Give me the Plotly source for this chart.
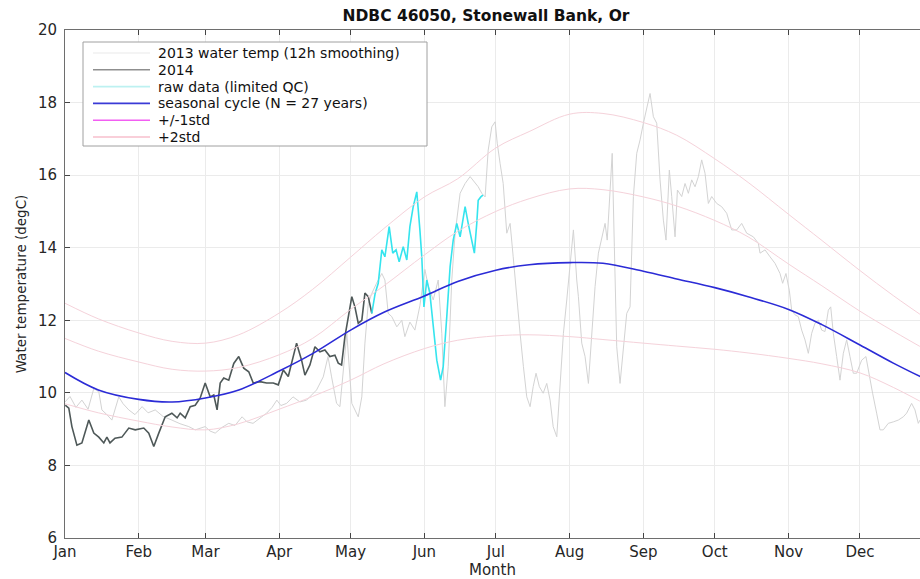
import plotly.graph_objects as go

# ---------------- data (day of year, degC) ----------------
month_days = [1, 32, 60, 91, 121, 152, 182, 213, 244, 274, 305, 335]
month_names = ["Jan", "Feb", "Mar", "Apr", "May", "Jun",
               "Jul", "Aug", "Sep", "Oct", "Nov", "Dec"]
y_ticks = [6, 8, 10, 12, 14, 16, 18, 20]

# seasonal climatology and spread
clim_day = [1, 15, 32, 46, 60, 74, 91, 105, 121, 135, 152, 166, 182,
            196, 213, 227, 244, 258, 274, 288, 305, 319, 335, 349, 365]
clim_mean = [10.56, 10.08, 9.82, 9.75, 9.86, 10.08, 10.6, 11.08, 11.73,
             12.22, 12.67, 13.07, 13.38, 13.53, 13.59, 13.57, 13.35,
             13.14, 12.9, 12.65, 12.3, 11.88, 11.32, 10.82, 10.3]
clim_plus1 = [11.5, 11.15, 10.85, 10.65, 10.6, 10.7, 11.05, 11.5, 12.3,
              12.95, 13.8, 14.45, 15.0, 15.35, 15.62, 15.6, 15.4, 15.15,
              14.75, 14.3, 13.55, 12.95, 12.25, 11.7, 11.1]
clim_minus1 = [9.7, 9.45, 9.22, 9.06, 8.98, 9.15, 9.55, 9.9, 10.35,
               10.8, 11.22, 11.45, 11.57, 11.6, 11.55, 11.47, 11.37,
               11.29, 11.2, 11.1, 10.95, 10.8, 10.55, 10.15, 9.6]
clim_plus2 = [12.47, 12.04, 11.65, 11.42, 11.37, 11.6, 12.2, 12.85, 13.74,
              14.53, 15.4, 15.9, 16.75, 17.2, 17.68, 17.7, 17.45, 17.1,
              16.45, 15.8, 14.92, 14.2, 13.37, 12.68, 11.95]

# 2013 water temperature, 12 h smoothing
t13_day = [1.0, 3.1, 5.6, 8.1, 10.7, 13.1, 15.2, 16.5, 18.6, 20.7, 23.6,
           25.4, 27.8, 30.4, 33.4, 35.9, 38.9, 42.2, 45.9, 49.3, 53.0, 55.7,
           59.9, 61.9, 64.1, 67.0, 69.8, 72.4, 75.4, 77.5, 80.0, 82.9, 85.7,
           88.0, 90.0, 91.7, 94.1, 96.8, 99.7, 102.5, 104.8, 106.7, 109.5,
           111.5, 113.0, 115.1, 116.5, 117.9, 119.4, 121.5, 122.8, 124.2,
           125.7, 127.0, 128.4, 129.9, 131.9, 134.1, 135.4, 136.8, 138.3,
           140.4, 142.5, 143.8, 145.9, 148.0, 150.1, 152.2, 153.6, 155.7,
           157.8, 159.3, 160.6, 162.0, 163.5, 164.9, 167.0, 169.1, 171.2,
           173.3, 174.6, 176.1, 177.5, 178.8, 180.3, 181.7, 182.6, 183.8,
           185.1, 186.6, 188.0, 189.3, 190.8, 192.2, 193.6, 195.0, 196.4,
           197.7, 198.9, 200.3, 201.9, 203.4, 204.8, 206.1, 207.6, 209.0,
           210.4, 211.8, 213.2, 214.6, 216.0, 216.7, 218.1, 219.5, 220.9,
           222.3, 223.7, 225.1, 226.5, 227.9, 228.8, 230.0, 230.9, 231.8,
           232.8, 234.2, 235.6, 237.0, 238.4, 239.8, 241.2, 242.6, 244.0,
           245.4, 246.8, 248.2, 249.6, 251.0, 252.4, 253.5, 254.9, 255.9,
           257.3, 258.3, 260.1, 261.5, 262.9, 264.3, 265.7, 267.1, 268.5,
           269.9, 271.3, 272.7, 274.8, 276.9, 279.0, 281.1, 283.2, 285.3,
           287.4, 290.2, 292.3, 293.0, 295.1, 297.2, 299.3, 301.4, 302.5,
           303.9, 305.3, 306.3, 307.7, 309.1, 310.5, 311.9, 313.3, 314.7,
           316.1, 317.5, 318.9, 320.3, 321.7, 322.7, 323.8, 325.2, 326.6,
           328.0, 329.4, 330.8, 332.2, 333.6, 335.7, 337.5, 338.9, 340.3,
           342.0, 343.4, 344.8, 346.9, 349.0, 351.1, 353.2, 354.6, 356.7,
           358.1, 359.5, 360.2, 363.0, 365.0]
t13_temp = [9.75, 9.9, 9.6, 9.8, 9.55, 10.12, 10.03, 9.53, 9.4, 9.25, 9.89,
            9.7, 9.53, 9.4, 9.62, 9.45, 9.53, 9.35, 9.25, 9.15, 9.07, 8.98,
            9.07, 8.95, 8.89, 9.05, 9.16, 9.1, 9.34, 9.2, 9.16, 9.3, 9.44,
            9.6, 9.8, 9.65, 9.71, 9.89, 9.75, 9.8, 9.95, 10.08, 10.44,
            11.0, 10.44, 9.71, 9.62, 10.63, 11.64, 9.71, 9.53, 9.34,
            9.89, 11.37, 12.46, 12.74, 13.02, 13.29, 13.11, 12.19, 12.1,
            11.82, 12.0, 11.55, 11.95, 11.73, 12.4, 13.4, 12.95, 12.56,
            13.11, 11.64, 9.62, 10.72, 13.11, 14.4, 15.5, 15.77, 15.96,
            15.77, 15.68, 15.5, 15.4, 16.69, 17.33, 17.47, 16.88, 16.32,
            15.77, 14.4, 14.67, 13.75, 12.56, 11.64, 10.72, 9.89, 9.62,
            10.17, 10.54, 10.17, 9.99, 10.26, 9.8, 9.07, 8.79, 10.08,
            11.64, 12.56, 13.5, 14.49, 13.11, 12.65, 11.37, 11.0, 10.26,
            11.55, 12.93, 13.85, 14.3, 14.67, 14.21, 15.41, 16.6, 14.03,
            11.27, 10.26, 11.27, 12.19, 12.37, 15.41, 16.6, 16.97, 17.43,
            17.89, 18.25, 17.61, 17.43, 15.87, 14.76, 14.21, 16.14, 15.41,
            14.3, 15.59, 15.41, 15.77, 15.5, 15.87, 15.68, 15.96, 16.42,
            16.05, 15.22, 15.41, 15.22, 15.13, 14.95, 14.49, 14.49, 14.67,
            14.4, 14.3, 14.12, 13.85, 13.94, 13.75, 13.57, 13.29, 13.02,
            13.29, 12.83, 12.28, 12.15, 12.1, 11.73, 11.46, 11.09, 11.64,
            11.92, 12.0, 11.73, 11.69, 12.28, 12.37, 11.64, 11.0, 10.35,
            11.09, 11.46, 11.0, 10.54, 10.54, 10.9, 11.0, 10.44, 9.99,
            9.44, 8.98, 8.98, 9.16, 9.2, 9.25, 9.34, 9.44, 9.71,
            9.53, 9.16, 9.25, 9.2, 9.1]

# 2014 quality-controlled record
t14_day = [1.1, 2.6, 3.9, 6.0, 8.1, 11.0, 13.1, 15.2, 17.3, 18.6, 19.9,
           22.0, 24.9, 27.8, 30.5, 34.1, 36.2, 38.3, 40.4, 43.1, 45.9, 48.1,
           49.4, 51.5, 53.6, 55.7, 57.8, 59.9, 62.0, 63.5, 64.9, 66.2, 67.7,
           69.8, 71.9, 74.0, 76.1, 78.2, 80.1, 82.9, 85.7, 88.5, 90.6, 92.7,
           94.8, 96.9, 98.3, 100.4, 101.8, 103.9, 106.0, 108.1, 110.2,
           112.3, 114.4, 115.8, 117.2, 118.6, 120.0, 121.5, 122.8, 124.2,
           125.7, 127.0, 128.4, 129.9]
t14_temp = [9.66, 9.58, 9.07, 8.56, 8.62, 9.25, 8.89, 8.78, 8.62, 8.78,
            8.62, 8.75, 8.78, 9.03, 8.98, 9.03, 8.89, 8.52, 8.89, 9.34,
            9.44, 9.31, 9.44, 9.31, 9.62, 9.66, 9.86, 10.27, 9.89, 9.94,
            9.53, 10.27, 10.41, 10.35, 10.81, 11.0, 10.68, 10.58, 10.27,
            10.31, 10.27, 10.27, 10.22, 10.63, 10.45, 11.0, 11.37, 10.9,
            10.49, 10.77, 11.27, 11.13, 11.18, 11.0, 11.04, 10.82, 10.77,
            11.55, 12.1, 12.65, 12.37, 11.92, 12.0, 12.75, 12.65, 12.19]

# 2014 raw data, limited QC
raw_day = [129.9, 131.3, 132.6, 134.1, 135.4, 137.2, 138.7, 140.1, 141.4,
           143.1, 144.6, 145.9, 147.3, 148.8, 150.1, 150.9, 151.8, 153.0,
           154.3, 155.7, 157.2, 158.8, 159.9, 161.4, 162.8, 164.1, 165.6,
           167.0, 168.1, 169.1, 170.4, 171.9, 173.0, 174.0, 174.6, 175.7,
           176.6]
raw_temp = [12.19, 12.74, 13.02, 13.94, 13.75, 14.58, 13.85, 13.94, 13.61,
            14.03, 13.66, 14.58, 15.13, 15.54, 14.49, 13.75, 12.37, 13.11,
            12.74, 11.82, 10.9, 10.35, 10.72, 12.1, 13.48, 14.21, 14.67,
            14.3, 14.76, 15.13, 14.67, 14.21, 13.85, 14.67, 15.31, 15.4,
            15.45]

# ---------------- figure ----------------
W, H = 920, 579
ML, MR, MT, MB = 65, 0, 30, 41
PX_PER_DAY = 2.3802
x_range = [1, 1 + (W - ML - MR) / PX_PER_DAY]

col_2013 = "#d3d3d3"
col_2014 = "#4e5858"
col_raw = "#35e4ee"
col_mean = "#2b2bd6"
col_std = "#f5d2da"

fig = go.Figure()
fig.add_trace(go.Scatter(x=t13_day, y=t13_temp, mode="lines",
                         name="2013 water temp (12h smoothing)",
                         line=dict(color=col_2013, width=1)))
fig.add_trace(go.Scatter(x=t14_day, y=t14_temp, mode="lines", name="2014",
                         line=dict(color=col_2014, width=1.6)))
fig.add_trace(go.Scatter(x=raw_day, y=raw_temp, mode="lines",
                         name="raw data (limited QC)",
                         line=dict(color=col_raw, width=1.6)))
fig.add_trace(go.Scatter(x=clim_day, y=clim_mean, mode="lines",
                         name="seasonal cycle (N = 27 years)",
                         line=dict(color=col_mean, width=1.6, shape="spline")))
fig.add_trace(go.Scatter(x=clim_day, y=clim_plus1, mode="lines",
                         name="+1std",
                         line=dict(color=col_std, width=1, shape="spline")))
fig.add_trace(go.Scatter(x=clim_day, y=clim_minus1, mode="lines",
                         name="-1std",
                         line=dict(color=col_std, width=1, shape="spline")))
fig.add_trace(go.Scatter(x=clim_day, y=clim_plus2, mode="lines",
                         name="+2std",
                         line=dict(color=col_std, width=1, shape="spline")))

# ---------------- legend box (drawn in pixel space of the axes) ----------------
plot_w = W - ML - MR
plot_h = H - MT - MB


def px(xp):
    return (xp - ML) / plot_w


def py(yp):
    return (H - MB - yp) / plot_h


legend_items = [
    ("2013 water temp (12h smoothing)", "#f1f1f1"),
    ("2014", "#8f8f8f"),
    ("raw data (limited QC)", "#bdf1f1"),
    ("seasonal cycle (N = 27 years)", "#3a3ad6"),
    ("+/-1std", "#f25ef2"),
    ("+2std", "#f7bfcc"),
]
shapes = [dict(type="rect", xref="paper", yref="paper",
               x0=px(83), x1=px(427), y0=py(146), y1=py(42),
               line=dict(color="#a0a0a0", width=1), fillcolor="white",
               layer="above")]
annotations = []
row0, row_step = 53.0, 16.8
for i, (label, color) in enumerate(legend_items):
    yc = row0 + i * row_step
    shapes.append(dict(type="line", xref="paper", yref="paper",
                       x0=px(93), x1=px(150), y0=py(yc), y1=py(yc),
                       line=dict(color=color, width=1.6), layer="above"))
    annotations.append(dict(text=label, xref="paper", yref="paper",
                            x=px(156), y=py(yc), xanchor="left",
                            yanchor="middle", showarrow=False,
                            font=dict(family="DejaVu Sans", size=14,
                                      color="#111111")))

axis_common = dict(
    showgrid=True, gridcolor="#ebebeb", gridwidth=1,
    showline=True, linecolor="#6e6e6e", linewidth=1,
    ticks="inside", ticklen=5, tickcolor="#444444", tickwidth=1,
    zeroline=False,
    tickfont=dict(family="DejaVu Sans", size=15, color="#262626"),
)

fig.update_layout(
    width=W, height=H,
    margin=dict(l=ML, r=MR, t=MT, b=MB, pad=0),
    paper_bgcolor="white", plot_bgcolor="white",
    showlegend=False,
    title=dict(text="<b>NDBC 46050, Stonewall Bank, Or</b>",
               x=486 / W, xanchor="center",
               y=1 - 16 / H, yanchor="middle",
               font=dict(family="DejaVu Sans", size=15.5, color="#111111")),
    xaxis=dict(range=x_range, tickvals=month_days, ticktext=month_names,
               mirror="ticks", automargin=False,
               title=dict(text="Month", standoff=6,
                          font=dict(family="DejaVu Sans", size=15,
                                    color="#262626")),
               **axis_common),
    yaxis=dict(range=[6, 20], tickvals=y_ticks, mirror=False,
               automargin=False, ticklabelstandoff=4,
               title=dict(text="Water temperature (degC)", standoff=8,
                          font=dict(family="DejaVu Sans", size=13.5,
                                    color="#262626")),
               **axis_common),
    shapes=shapes,
    annotations=annotations,
)

fig.write_html("out.html")
